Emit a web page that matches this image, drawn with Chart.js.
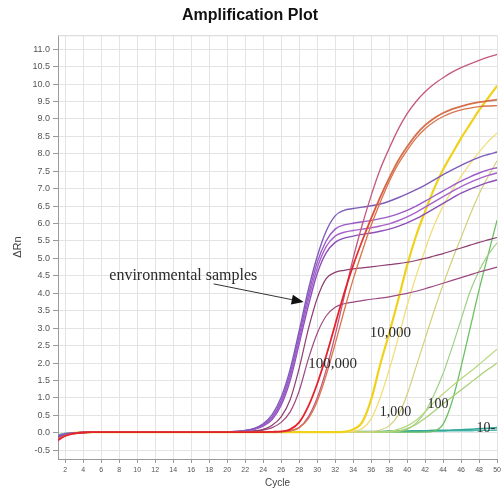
<!DOCTYPE html>
<html>
<head>
<meta charset="utf-8">
<title>Amplification Plot</title>
<script src="https://cdn.jsdelivr.net/npm/chart.js@4.4.1/dist/chart.umd.min.js"></script>
<style>
  body { margin: 0; background: #fff; }
  .plot-box { width: 504px; height: 488px; }
</style>
</head>
<body>
<div class="plot-box"><canvas id="ampChart"></canvas></div>
<script>
// cycle numbers (x) and axis ticks
const cycles = [1, 2, 3, 4, 5, 6, 7, 8, 9, 10, 11, 12, 13, 14, 15, 16, 17, 18, 19, 20,
  21, 22, 23, 24, 25, 26, 27, 28, 29, 30, 31, 32, 33, 34, 35, 36, 37, 38, 39, 40,
  41, 42, 43, 44, 45, 46, 47, 48, 49, 50];
const xTicks = [2, 4, 6, 8, 10, 12, 14, 16, 18, 20, 22, 24, 26, 28, 30, 32, 34, 36, 38, 40, 42, 44, 46, 48, 50];
const yTicks = [-0.5, 0, 0.5, 1, 1.5, 2, 2.5, 3, 3.5, 4, 4.5, 5, 5.5, 6, 6.5, 7, 7.5, 8, 8.5, 9, 9.5, 10, 10.5, 11];

// delta Rn per cycle - environmental samples
const envA = [-0.12, -0.04, 0, 0.01, 0.02, 0.02, 0.02, 0.02, 0.02, 0.02, 0.02, 0.02, 0.02, 0.02, 0.02, 0.02, 0.02, 0.02, 0.03, 0.03,
  0.04, 0.07, 0.13, 0.26, 0.52, 1.02, 1.82, 2.92, 4.08, 5.05, 5.78, 6.22, 6.38, 6.43, 6.47, 6.51, 6.56, 6.64, 6.74, 6.85,
  6.97, 7.1, 7.25, 7.4, 7.54, 7.67, 7.79, 7.9, 7.98, 8.05];
const envB = [-0.1, -0.03, 0, 0.01, 0.02, 0.02, 0.02, 0.02, 0.02, 0.02, 0.02, 0.02, 0.02, 0.02, 0.02, 0.02, 0.02, 0.02, 0.03, 0.03,
  0.04, 0.06, 0.12, 0.23, 0.46, 0.92, 1.7, 2.78, 3.92, 4.88, 5.5, 5.84, 5.96, 6.01, 6.05, 6.09, 6.14, 6.2, 6.28, 6.38,
  6.5, 6.64, 6.79, 6.94, 7.08, 7.22, 7.34, 7.45, 7.54, 7.6];
const envC = [-0.1, -0.03, 0, 0.01, 0.02, 0.02, 0.02, 0.02, 0.02, 0.02, 0.02, 0.02, 0.02, 0.02, 0.02, 0.02, 0.02, 0.02, 0.02, 0.03,
  0.04, 0.06, 0.11, 0.21, 0.42, 0.86, 1.6, 2.66, 3.78, 4.72, 5.34, 5.64, 5.75, 5.8, 5.84, 5.88, 5.93, 5.99, 6.08, 6.19,
  6.32, 6.47, 6.62, 6.77, 6.92, 7.06, 7.18, 7.29, 7.38, 7.45];
const envD = [-0.12, -0.04, 0, 0.01, 0.02, 0.02, 0.02, 0.02, 0.02, 0.02, 0.02, 0.02, 0.02, 0.02, 0.02, 0.02, 0.02, 0.02, 0.02, 0.03,
  0.03, 0.05, 0.1, 0.19, 0.38, 0.79, 1.5, 2.55, 3.62, 4.56, 5.16, 5.46, 5.58, 5.64, 5.69, 5.73, 5.78, 5.84, 5.92, 6.02,
  6.14, 6.28, 6.43, 6.58, 6.73, 6.87, 6.99, 7.09, 7.18, 7.25];
const envE = [-0.14, -0.05, 0, 0.01, 0.02, 0.02, 0.02, 0.02, 0.02, 0.02, 0.02, 0.02, 0.02, 0.02, 0.02, 0.02, 0.02, 0.02, 0.02, 0.02,
  0.03, 0.04, 0.06, 0.1, 0.22, 0.46, 0.95, 1.85, 2.95, 3.85, 4.42, 4.6, 4.66, 4.7, 4.73, 4.76, 4.79, 4.82, 4.85, 4.89,
  4.94, 5, 5.07, 5.14, 5.22, 5.3, 5.38, 5.46, 5.53, 5.6];
const envF = [-0.14, -0.05, 0, 0.01, 0.02, 0.02, 0.02, 0.02, 0.02, 0.02, 0.02, 0.02, 0.02, 0.02, 0.02, 0.02, 0.02, 0.02, 0.02, 0.02,
  0.03, 0.03, 0.05, 0.08, 0.15, 0.3, 0.6, 1.2, 2.1, 2.85, 3.35, 3.6, 3.7, 3.75, 3.79, 3.83, 3.86, 3.9, 3.95, 4,
  4.06, 4.13, 4.21, 4.29, 4.37, 4.45, 4.53, 4.61, 4.68, 4.75];

// standards: 100,000 copies
const std5A = [-0.2, -0.07, -0.01, 0.01, 0.02, 0.02, 0.02, 0.02, 0.02, 0.02, 0.02, 0.02, 0.02, 0.02, 0.02, 0.02, 0.02, 0.02, 0.02, 0.02,
  0.02, 0.02, 0.02, 0.02, 0.02, 0.03, 0.06, 0.15, 0.45, 1, 1.8, 2.8, 3.9, 5, 5.95, 6.8, 7.55, 8.15, 8.7, 9.15,
  9.5, 9.78, 10, 10.18, 10.34, 10.47, 10.58, 10.68, 10.77, 10.85];
const std5B = [-0.25, -0.09, -0.02, 0.01, 0.02, 0.02, 0.02, 0.02, 0.02, 0.02, 0.02, 0.02, 0.02, 0.02, 0.02, 0.02, 0.02, 0.02, 0.02, 0.02,
  0.02, 0.02, 0.02, 0.02, 0.03, 0.04, 0.1, 0.3, 0.75, 1.4, 2.2, 3.1, 4, 4.8, 5.5, 6.15, 6.75, 7.3, 7.8, 8.2,
  8.55, 8.82, 9.02, 9.17, 9.28, 9.36, 9.43, 9.48, 9.52, 9.55];
const std5C = [-0.22, -0.08, -0.02, 0.01, 0.02, 0.02, 0.02, 0.02, 0.02, 0.02, 0.02, 0.02, 0.02, 0.02, 0.02, 0.02, 0.02, 0.02, 0.02, 0.02,
  0.02, 0.02, 0.02, 0.02, 0.02, 0.03, 0.06, 0.15, 0.4, 0.9, 1.65, 2.55, 3.5, 4.4, 5.2, 5.95, 6.6, 7.2, 7.7, 8.1,
  8.45, 8.72, 8.92, 9.07, 9.18, 9.26, 9.31, 9.35, 9.37, 9.38];

// standards: 10,000 copies
const std4A = [-0.15, -0.05, 0, 0.01, 0.02, 0.02, 0.02, 0.02, 0.02, 0.02, 0.02, 0.02, 0.02, 0.02, 0.02, 0.02, 0.02, 0.02, 0.02, 0.02,
  0.02, 0.02, 0.02, 0.02, 0.02, 0.02, 0.02, 0.02, 0.02, 0.02, 0.02, 0.02, 0.03, 0.1, 0.3, 0.95, 1.95, 2.85, 3.8, 4.8,
  5.65, 6.35, 7, 7.55, 8, 8.45, 8.85, 9.25, 9.6, 9.95];
const std4B = [-0.12, -0.04, 0, 0.01, 0.02, 0.02, 0.02, 0.02, 0.02, 0.02, 0.02, 0.02, 0.02, 0.02, 0.02, 0.02, 0.02, 0.02, 0.02, 0.02,
  0.02, 0.02, 0.02, 0.02, 0.02, 0.02, 0.02, 0.02, 0.02, 0.02, 0.02, 0.02, 0.02, 0.05, 0.12, 0.4, 1, 1.8, 2.7, 3.65,
  4.5, 5.25, 5.95, 6.5, 6.95, 7.35, 7.72, 8.05, 8.35, 8.6];
const std4C = [-0.1, -0.03, 0, 0.01, 0.02, 0.02, 0.02, 0.02, 0.02, 0.02, 0.02, 0.02, 0.02, 0.02, 0.02, 0.02, 0.02, 0.02, 0.02, 0.02,
  0.02, 0.02, 0.02, 0.02, 0.02, 0.02, 0.02, 0.02, 0.02, 0.02, 0.02, 0.02, 0.02, 0.02, 0.02, 0.03, 0.08, 0.2, 0.5, 1.1,
  1.9, 2.7, 3.5, 4.25, 4.95, 5.6, 6.25, 6.85, 7.35, 7.8];

// standards: 1,000 copies
const std3A = [-0.1, -0.03, 0, 0.01, 0.02, 0.02, 0.02, 0.02, 0.02, 0.02, 0.02, 0.02, 0.02, 0.02, 0.02, 0.02, 0.02, 0.02, 0.02, 0.02,
  0.02, 0.02, 0.02, 0.02, 0.02, 0.02, 0.02, 0.02, 0.02, 0.02, 0.02, 0.02, 0.02, 0.02, 0.02, 0.02, 0.02, 0.04, 0.1, 0.2,
  0.36, 0.6, 0.88, 1.12, 1.34, 1.55, 1.75, 1.96, 2.18, 2.4];
const std3B = [-0.1, -0.03, 0, 0.01, 0.02, 0.02, 0.02, 0.02, 0.02, 0.02, 0.02, 0.02, 0.02, 0.02, 0.02, 0.02, 0.02, 0.02, 0.02, 0.02,
  0.02, 0.02, 0.02, 0.02, 0.02, 0.02, 0.02, 0.02, 0.02, 0.02, 0.02, 0.02, 0.02, 0.02, 0.02, 0.02, 0.02, 0.02, 0.05, 0.12,
  0.24, 0.42, 0.62, 0.83, 1.03, 1.23, 1.43, 1.63, 1.82, 2];
const std3C = [-0.1, -0.03, 0, 0.01, 0.02, 0.02, 0.02, 0.02, 0.02, 0.02, 0.02, 0.02, 0.02, 0.02, 0.02, 0.02, 0.02, 0.02, 0.02, 0.02,
  0.02, 0.02, 0.02, 0.02, 0.02, 0.02, 0.02, 0.02, 0.02, 0.02, 0.02, 0.02, 0.02, 0.02, 0.02, 0.02, 0.02, 0.02, 0.04, 0.1,
  0.28, 0.6, 1.1, 1.7, 2.45, 3.25, 4.05, 4.65, 5.1, 5.45];

// standards: 100 copies
const std2A = [-0.1, -0.03, 0, 0.01, 0.02, 0.02, 0.02, 0.02, 0.02, 0.02, 0.02, 0.02, 0.02, 0.02, 0.02, 0.02, 0.02, 0.02, 0.02, 0.02,
  0.02, 0.02, 0.02, 0.02, 0.02, 0.02, 0.02, 0.02, 0.02, 0.02, 0.02, 0.02, 0.02, 0.02, 0.02, 0.02, 0.02, 0.02, 0.02, 0.02,
  0.02, 0.02, 0.05, 0.25, 0.9, 1.9, 3, 4.1, 5.1, 6.1];

// standards: 10 copies
const std1A = [-0.08, -0.02, 0, 0.01, 0.02, 0.02, 0.02, 0.02, 0.02, 0.02, 0.02, 0.02, 0.02, 0.02, 0.02, 0.02, 0.02, 0.02, 0.02, 0.02,
  0.02, 0.02, 0.02, 0.02, 0.02, 0.02, 0.02, 0.02, 0.02, 0.03, 0.03, 0.03, 0.03, 0.04, 0.04, 0.04, 0.04, 0.05, 0.05, 0.05,
  0.06, 0.06, 0.07, 0.07, 0.08, 0.09, 0.1, 0.12, 0.13, 0.15];
const std1B = [-0.08, -0.02, 0, 0.01, 0.02, 0.02, 0.02, 0.02, 0.02, 0.02, 0.02, 0.02, 0.02, 0.02, 0.02, 0.02, 0.02, 0.02, 0.02, 0.02,
  0.02, 0.02, 0.02, 0.02, 0.02, 0.02, 0.02, 0.02, 0.02, 0.02, 0.02, 0.03, 0.03, 0.03, 0.03, 0.03, 0.03, 0.04, 0.04, 0.04,
  0.04, 0.05, 0.05, 0.05, 0.06, 0.06, 0.06, 0.07, 0.07, 0.08];

// text notes placed in data units (cycle, delta Rn)
const notes = [
  { text: 'environmental samples', cycle: 6.9, rn: 4.5, size: 16 },
  { text: '100,000', cycle: 29.0, rn: 1.98, size: 15 },
  { text: '10,000', cycle: 35.85, rn: 2.87, size: 15 },
  { text: '1,000', cycle: 36.96, rn: 0.6, size: 14 },
  { text: '100', cycle: 42.26, rn: 0.83, size: 14 },
  { text: '10-', cycle: 47.7, rn: 0.14, size: 14 }
];
const arrowFrom = { cycle: 18.5, rn: 4.27 };
const arrowTo = { cycle: 28.5, rn: 3.75 };

const toPoints = (values) => values.map((v, i) => ({ x: cycles[i], y: v }));

// the brightest 100,000 curve turns from red to salmon as it climbs
const redToSalmon = (ctx) => {
  const { chart } = ctx;
  if (!chart.chartArea) return '#e3242b';
  const y = chart.scales.y;
  const g = chart.ctx.createLinearGradient(0, y.getPixelForValue(4.5), 0, y.getPixelForValue(7.5));
  g.addColorStop(0, '#e3242b');
  g.addColorStop(1, '#d6704c');
  return g;
};

// first entry is drawn on top
const curves = [
  { values: std5B, color: redToSalmon, width: 1.8 },
  { values: std5C, color: '#d9744e', width: 1.3 },
  { values: std5A, color: '#c4587e', width: 1.3 },
  { values: envA, color: '#7e5cba', width: 1.4 },
  { values: envB, color: '#9a5ac8', width: 1.4 },
  { values: envC, color: '#a862cc', width: 1.4 },
  { values: envD, color: '#8c50b8', width: 1.4 },
  { values: envE, color: '#8e3d70', width: 1.2 },
  { values: envF, color: '#9c4a82', width: 1.2 },
  { values: std4A, color: '#f0d21e', width: 2.2 },
  { values: std4B, color: '#f2de7a', width: 1.3 },
  { values: std4C, color: '#d4cf7c', width: 1.2 },
  { values: std3A, color: '#b5d779', width: 1.2 },
  { values: std3B, color: '#a6cf72', width: 1.2 },
  { values: std3C, color: '#9fd088', width: 1.2 },
  { values: std2A, color: '#6cc062', width: 1.3 },
  { values: std1A, color: '#33a898', width: 1.6 },
  { values: std1B, color: '#4cbab0', width: 1.4 }
];

const datasets = curves.map((c) => ({
  data: toPoints(c.values),
  borderColor: c.color,
  borderWidth: c.width,
  pointRadius: 0,
  fill: false,
  cubicInterpolationMode: 'monotone'
}));

// top edge of the plot frame
const framePlugin = {
  id: 'frame',
  beforeDatasetsDraw(chart) {
    const { ctx, chartArea } = chart;
    ctx.save();
    ctx.strokeStyle = '#d6d6d6';
    ctx.lineWidth = 1;
    ctx.beginPath();
    ctx.moveTo(chartArea.left, chartArea.top + 0.5);
    ctx.lineTo(chartArea.right, chartArea.top + 0.5);
    ctx.stroke();
    ctx.restore();
  }
};

const notesPlugin = {
  id: 'notes',
  afterDatasetsDraw(chart) {
    const { ctx, scales: { x, y } } = chart;
    ctx.save();
    ctx.fillStyle = '#2a2a2a';
    ctx.textBaseline = 'middle';
    notes.forEach((n) => {
      ctx.font = n.size + 'px "Liberation Serif", "Times New Roman", serif';
      ctx.fillText(n.text, x.getPixelForValue(n.cycle), y.getPixelForValue(n.rn));
    });

    // arrow to the sample curves
    const x0 = x.getPixelForValue(arrowFrom.cycle), y0 = y.getPixelForValue(arrowFrom.rn);
    const x1 = x.getPixelForValue(arrowTo.cycle), y1 = y.getPixelForValue(arrowTo.rn);
    const ang = Math.atan2(y1 - y0, x1 - x0);
    const headLen = 12, headW = 5;
    const bx = x1 - headLen * Math.cos(ang), by = y1 - headLen * Math.sin(ang);
    ctx.strokeStyle = '#333';
    ctx.lineWidth = 1;
    ctx.beginPath();
    ctx.moveTo(x0, y0);
    ctx.lineTo(bx, by);
    ctx.stroke();
    ctx.fillStyle = '#111';
    ctx.beginPath();
    ctx.moveTo(x1, y1);
    ctx.lineTo(bx + headW * Math.sin(ang), by - headW * Math.cos(ang));
    ctx.lineTo(bx - headW * Math.sin(ang), by + headW * Math.cos(ang));
    ctx.closePath();
    ctx.fill();
    ctx.restore();
  }
};

const sansFont = '"Liberation Sans", Arial, sans-serif';

new Chart(document.getElementById('ampChart'), {
  type: 'line',
  data: { datasets },
  plugins: [framePlugin, notesPlugin],
  options: {
    responsive: true,
    maintainAspectRatio: false,
    animation: false,
    layout: { padding: { right: 4 } },
    plugins: {
      legend: { display: false },
      tooltip: { enabled: false },
      title: {
        display: true,
        text: 'Amplification Plot',
        color: '#111',
        font: { family: sansFont, size: 16, weight: 'bold' },
        padding: { top: 6, bottom: 10 }
      }
    },
    scales: {
      x: {
        type: 'linear',
        min: 1.2,
        max: 50,
        afterBuildTicks: (scale) => { scale.ticks = xTicks.map((v) => ({ value: v })); },
        afterFit: (scale) => { scale.height = 29; },
        ticks: {
          autoSkip: false,
          maxRotation: 0,
          padding: 3,
          color: '#555',
          font: { family: sansFont, size: 7 }
        },
        grid: { color: '#e4e4e4', tickColor: '#9a9a9a', tickLength: 4 },
        border: { color: '#9a9a9a' },
        title: {
          display: true,
          text: 'Cycle',
          color: '#444',
          font: { family: sansFont, size: 10, lineHeight: 1 },
          padding: { top: 0, bottom: 0 }
        }
      },
      y: {
        min: -0.75,
        max: 11.4,
        afterBuildTicks: (scale) => { scale.ticks = yTicks.map((v) => ({ value: v })); },
        afterFit: (scale) => { scale.width = 58; },
        ticks: {
          padding: 3,
          color: '#555',
          font: { family: sansFont, size: 9 },
          callback: (v) => Number(v).toFixed(1)
        },
        grid: { color: '#e4e4e4', tickColor: '#9a9a9a', tickLength: 5 },
        border: { color: '#9a9a9a' },
        title: {
          display: true,
          text: 'ΔRn',
          color: '#444',
          font: { family: sansFont, size: 11 },
          padding: { top: 11, bottom: 0 }
        }
      }
    }
  }
});
</script>
</body>
</html>
